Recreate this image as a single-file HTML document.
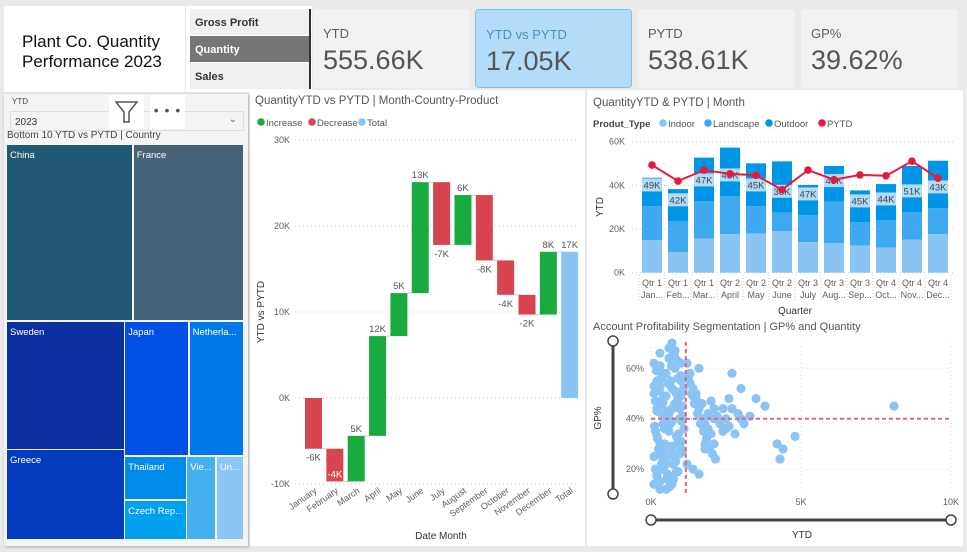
<!DOCTYPE html>
<html><head><meta charset="utf-8">
<style>
*{box-sizing:border-box;margin:0;padding:0}
body{width:967px;height:552px;background:#eaeaea;font-family:"Liberation Sans",sans-serif;position:relative;overflow:hidden}
.abs{position:absolute}
.card{position:absolute;background:#f2f2f2;border-radius:4px;top:9px;height:79px;width:157px}
.card .l{position:absolute;left:10px;top:17px;font-size:13px;color:#605e5c}
.card .v{position:absolute;left:10px;top:36px;font-size:27px;color:#555}
.btn{position:absolute;left:190px;width:120px;height:26px;font-size:11px;font-weight:bold;color:#333;padding:8px 0 0 5px;background:#f0f0f0}
</style></head><body>
<div class="abs" style="left:4px;top:6px;width:181px;height:86px;background:#fff"></div>
<div class="abs" style="left:22px;top:32px;font-size:17px;line-height:20px;color:#111">Plant Co. Quantity<br>Performance 2023</div>
<div class="abs" style="left:186px;top:6px;width:126px;height:86px;background:#fff"></div>
<div class="btn" style="top:9px">Gross Profit</div>
<div class="btn" style="top:36px;background:#767676;color:#fff">Quantity</div>
<div class="btn" style="top:63px">Sales</div>
<div class="abs" style="left:309px;top:9px;width:2px;height:80px;background:#333"></div>
<div class="card" style="left:313px"><div class="l">YTD</div><div class="v">555.66K</div></div>
<div class="card" style="left:475px;background:#b3dcf8;border:1px solid #7fbfea"><div class="l" style="color:#4a8fc7">YTD vs PYTD</div><div class="v">17.05K</div></div>
<div class="card" style="left:638px"><div class="l">PYTD</div><div class="v">538.61K</div></div>
<div class="card" style="left:801px"><div class="l">GP%</div><div class="v">39.62%</div></div>

<div class="abs" style="left:4px;top:94px;width:244px;height:452px;background:#f4f4f4;box-shadow:1px 1px 3px #aaa"></div>
<div class="abs" style="left:12px;top:97px;font-size:8px;color:#444">YTD</div>
<div class="abs" style="left:10px;top:111px;width:234px;height:20px;border:1px solid #ddd;font-size:10px;padding:5px 4px;color:#333">2023<span style="position:absolute;right:6px;top:2px;color:#666">⌄</span></div>
<div class="abs" style="left:109px;top:95px;width:35px;height:34px;background:#fff"><svg width="35" height="34"><path d="M7 7 H28 L20 17 V27 H15 V17 Z" fill="none" stroke="#555" stroke-width="1.5"/></svg></div>
<div class="abs" style="left:150px;top:95px;width:35px;height:34px;background:#fff;text-align:center;font-size:14px;color:#555;line-height:30px;letter-spacing:1px">• • •</div>
<div class="abs" style="left:7px;top:130px;font-size:10px;color:#444">Bottom 10 YTD vs PYTD | Country</div>
<div id="tm"></div>

<div class="abs" style="left:250px;top:90px;width:335px;height:456px;background:#fff"></div>
<div class="abs" style="left:587px;top:90px;width:376px;height:456px;background:#fff"></div>
<svg class="abs" style="left:0;top:0" width="967" height="552" id="svg" font-family="Liberation Sans, sans-serif"></svg>

<script>
// ---------- treemap data ----------
const tmNames=["China","France","Sweden","Japan","Netherla...","Greece","Thailand","Czech Rep...","Vie...","Un..."];
const tmValues=[-9.0,-7.9,-6.1,-3.5,-3.0,-4.3,-1.1,-1.0,-1.0,-0.95];
const tmColors=["#215873","#466278","#0c2fa0","#0050e6","#0078ea","#053cbf","#008beb","#00a0ee","#45b0f0","#8bc6f5"];

// ---------- waterfall data ----------
const wfMonths=["January","February","March","April","May","June","July","August","September","October","November","December"];
const wfDeltas=[-5.9,-3.8,5.3,11.6,5.0,12.9,-7.3,5.8,-7.6,-4.0,-2.3,7.3];
const wfLabels=["-6K","-4K","5K","12K","5K","13K","-7K","6K","-8K","-4K","-2K","8K"];
const wfTicks=[-10,0,10,20,30];

// ---------- stacked column data ----------
const bcQuarters=["Qtr 1","Qtr 1","Qtr 1","Qtr 2","Qtr 2","Qtr 2","Qtr 3","Qtr 3","Qtr 3","Qtr 4","Qtr 4","Qtr 4"];
const bcMonths=["Jan...","Feb...","Mar...","April","May","June","July","Aug...","Sep...","Oct...","Nov...","Dec..."];
const bcIndoor=[15.0,9.5,15.6,17.7,18.0,19.1,14.0,13.6,12.5,11.5,15.1,17.7];
const bcLandscape=[15.5,14.2,17.2,17.4,12.5,8.5,12.4,18.9,10.7,12.6,12.7,11.9];
const bcOutdoor=[13.0,14.6,19.9,22.2,19.6,23.4,13.8,16.4,14.5,16.5,21.1,21.7];
const bcPytd=[49.3,42.0,47.0,45.3,44.6,38.0,47.0,42.6,44.8,44.4,51.1,43.3];
const bcPytdLabels=["49K","42K","47K","45K","45K","38K","47K","43K","45K","44K","51K","43K"];
const bcTicks=[0,20,40,60];

// ---------- scatter data (YTD in K, GP %) ----------
const scX=[0.1,0.2,0.3,0.4,0.5,0.6,0.7,0.8,0.9,1.0, 0.15,0.25,0.35,0.45,0.55,0.65,0.75,0.85,0.95,1.05, 0.2,0.3,0.4,0.5,0.6,0.7,0.8,0.9,1.0,1.1, 0.1,0.2,0.3,0.4,0.5,0.6,0.7,0.8,0.9,1.0, 0.12,0.22,0.32,0.42,0.52,0.62,0.72,0.82,0.92,1.02, 0.18,0.28,0.38,0.48,0.58,0.68,0.78,0.88,0.98,1.08, 0.1,0.3,0.5,0.7,0.9,0.2,0.4,0.6,0.8,1.0, 0.15,0.35,0.55,0.75,0.95,0.25,0.45,0.65,0.85,1.05, 1.2,1.3,1.4,1.5,1.6,1.7,1.8,1.9,2.0,2.1, 1.25,1.35,1.45,1.55,1.65,1.75,1.85,1.95,2.05,2.15, 1.2,1.4,1.6,1.8,2.0,2.2,2.4,2.6,1.3,1.5, 1.7,1.9,2.1,2.3,2.5,2.7,2.9,3.0,3.1,2.8, 2.6,2.4,2.2,2.0,3.3,3.5,3.8,4.2,4.3,4.4, 4.8,8.1,3.0,2.7,1.6,1.4,1.2,2.1,1.8,2.5, 0.1,0.3,0.5,0.7,0.9,0.2,0.4,0.6,0.8,1.0, 0.15,0.35,0.55,0.75,0.95,0.25,0.45,0.65,0.85,1.05, 0.1,0.3,0.5,0.7,0.9,0.2,0.4,0.6,0.8,1.0];
const scY=[62,55,66,48,58,68,52,60,45,57, 35,28,42,30,25,38,22,33,40,27, 18,15,20,12,17,14,24,19,31,36, 50,44,53,47,41,64,70,67,56,49, 37,32,26,21,16,13,29,23,34,39, 59,51,46,43,54,61,65,63,57,52, 25,30,36,44,48,33,38,42,46,28, 20,22,18,16,26,60,58,55,50,45, 62,58,52,48,44,40,38,36,34,30, 56,50,46,42,38,35,32,28,26,24, 22,20,18,30,34,40,44,48,54,50, 46,42,40,38,36,44,42,40,38,34, 37,35,41,47,41,48,45,30,24,28, 33,45,52,58,60,49,57,44,28,40, 53,61,49,39,31,43,27,35,23,62, 47,56,39,66,44,52,36,29,19,41, 14,12,22,27,32,17,24,43,51,55];

const svg=document.getElementById('svg');
const NS='http://www.w3.org/2000/svg';
function el(tag,attrs,parent){const e=document.createElementNS(NS,tag);for(const k in attrs)e.setAttribute(k,attrs[k]);(parent||svg).appendChild(e);return e;}
function txt(x,y,s,attrs){const t=el('text',Object.assign({x:x,y:y,'font-size':10,fill:'#605e5c'},attrs||{}));t.textContent=s;return t;}

// ---------- treemap ----------
(function(){
  const tm=document.getElementById('tm');
  const X0=7,X1=245,Y0=145,Y1=541;
  const total=tmValues.reduce((a,b)=>a+Math.abs(b),0);
  const rects=[];
  const topSum=Math.abs(tmValues[0])+Math.abs(tmValues[1]);
  const yTop=Y0+(Y1-Y0)*topSum/total;
  let xs=X0+(X1-X0)*Math.abs(tmValues[0])/topSum;
  rects.push([X0,Y0,xs,yTop],[xs,Y0,X1,yTop]);
  const rest=total-topSum;
  const leftSum=Math.abs(tmValues[2])+Math.abs(tmValues[5]);
  const xl=X0+(X1-X0)*leftSum/rest;
  const ysw=yTop+(Y1-yTop)*Math.abs(tmValues[2])/leftSum;
  const rightRest=rest-leftSum;
  const jnSum=Math.abs(tmValues[3])+Math.abs(tmValues[4]);
  const yjn=yTop+(Y1-yTop)*jnSum/rightRest;
  const xj=xl+(X1-xl)*Math.abs(tmValues[3])/jnSum;
  const smallSum=rightRest-jnSum;
  const tcSum=Math.abs(tmValues[6])+Math.abs(tmValues[7]);
  const xtc=xl+(X1-xl)*tcSum/smallSum;
  const yth=yjn+(Y1-yjn)*Math.abs(tmValues[6])/tcSum;
  const xv=xtc+(X1-xtc)*Math.abs(tmValues[8])/(Math.abs(tmValues[8])+Math.abs(tmValues[9]));
  const map={2:[X0,yTop,xl,ysw],5:[X0,ysw,xl,Y1],3:[xl,yTop,xj,yjn],4:[xj,yTop,X1,yjn],6:[xl,yjn,xtc,yth],7:[xl,yth,xtc,Y1],8:[xtc,yjn,xv,Y1],9:[xv,yjn,X1,Y1]};
  for(let i=2;i<10;i++)rects.push(map[i]);
  rects.forEach((r,i)=>{
    const d=document.createElement('div');
    
    
    d.style.cssText=`position:absolute;left:${r[0]}px;top:${r[1]}px;width:${r[2]-r[0]-1.5}px;height:${r[3]-r[1]-1.5}px;background:${tmColors[i]};color:#fff;font-size:9.5px;padding:5px 3px;overflow:hidden;white-space:nowrap`;
    d.textContent=tmNames[i];
    tm.appendChild(d);
  });
})();

// ---------- waterfall ----------
(function(){
  txt(255,104,'QuantityYTD vs PYTD | Month-Country-Product',{'font-size':11.5,fill:'#555'});
  const leg=[["Increase","#1aab40",258],["Decrease","#d64550",309],["Total","#8ac4f5",359]];
  leg.forEach(l=>{const c=el('circle',{cx:l[2]+3,cy:122,r:3.8,fill:l[1]});txt(l[2]+8,126,l[0],{'font-size':9.5,fill:'#555'});});
  const y=v=>398-v*8.6;
  const step=21.35, x0=305, bw=17;
  wfTicks.forEach(t=>{el('line',{x1:295,x2:578,y1:y(t),y2:y(t),stroke:'#ccc','stroke-dasharray':'1,3'});txt(290,y(t)+3,t+'K',{'text-anchor':'end','font-size':9});});
  let cum=0;
  wfDeltas.forEach((d,i)=>{
    const a=cum,b=cum+d;cum=b;
    const x=x0+i*step;
    const r=el('rect',{x:x,y:y(Math.max(a,b)),width:bw,height:Math.abs(y(a)-y(b)),fill:d>=0?'#1aab40':'#d64550'});
    
    
    el('line',{x1:x+bw,x2:x+step,y1:y(b),y2:y(b),stroke:'#ccc'});
    let ly=d>=0?y(b)-4:y(b)+12, col='#555';
    if(d<0 && b<-8){ly=y(b)-4;col='#fff';}
    txt(x+bw/2,ly,wfLabels[i],{'text-anchor':'middle','font-size':9.5,fill:col});
    const lx=x+bw/2+4;
    txt(lx,492,wfMonths[i],{'text-anchor':'end','font-size':9,transform:`rotate(-35 ${lx} 492)`});
  });
  const xt=x0+12*step;
  const t=el('rect',{x:xt,y:y(cum),width:bw,height:y(0)-y(cum),fill:'#8ac4f5'});
  
  
  txt(xt+bw/2,y(cum)-4,'17K',{'text-anchor':'middle','font-size':9.5,fill:'#555'});
  txt(xt+bw/2+4,492,'Total',{'text-anchor':'end','font-size':9,transform:`rotate(-35 ${xt+bw/2+4} 492)`});
  txt(441,539,'Date Month',{'text-anchor':'middle','font-size':10,fill:'#333'});
  txt(264,312,'YTD vs PYTD',{'text-anchor':'middle','font-size':10,fill:'#333',transform:'rotate(-90 264 312)'});
})();

// ---------- stacked column + line ----------
(function(){
  txt(593,106,'QuantityYTD & PYTD | Month',{'font-size':11.5,fill:'#555'});
  txt(593,127,'Produt_Type',{'font-size':9.5,fill:'#444','font-weight':'bold'});
  const leg=[["Indoor","#8ac4f5",660],["Landscape","#3fa9f0",705],["Outdoor","#0096e8",766],["PYTD","#e8193c",819]];
  leg.forEach(l=>{const c=el('circle',{cx:l[2]+3,cy:123,r:3.8,fill:l[1]});txt(l[2]+8,127,l[0],{'font-size':9.5,fill:'#555'});});
  const y=v=>272.7-v*2.183;
  bcTicks.forEach(t=>{el('line',{x1:632,x2:955,y1:y(t),y2:y(t),stroke:'#ccc','stroke-dasharray':'1,3'});txt(625,y(t)+3,t+'K',{'text-anchor':'end','font-size':9});});
  const x0=642, step=26, bw=20;
  const pts=[];
  bcIndoor.forEach((v,i)=>{
    const x=x0+i*step;
    const segs=[[0,v,'#8ac4f5','indoor'],[v,v+bcLandscape[i],'#3fa9f0','landscape'],[v+bcLandscape[i],v+bcLandscape[i]+bcOutdoor[i],'#0096e8','outdoor']];
    segs.forEach(s=>{const r=el('rect',{x:x,y:y(s[1]),width:bw,height:y(s[0])-y(s[1]),fill:s[2]});});
    const top=v+bcLandscape[i]+bcOutdoor[i];
    const ly=Math.min(top-2,v+bcLandscape[i]+9);
    el('rect',{x:x,y:y(ly)-8,width:bw,height:13,fill:'#cfe8fb',opacity:0.85});
    txt(x+bw/2,y(ly)+2,bcPytdLabels[i],{'text-anchor':'middle','font-size':9.5,fill:'#444'});
    pts.push([x+bw/2,y(bcPytd[i])]);
    el('line',{x1:x-3,x2:x-3,y1:275,y2:300,stroke:'#ccc','stroke-dasharray':'1,2'});
    txt(x+bw/2,286,bcQuarters[i],{'text-anchor':'middle','font-size':9});
    txt(x+bw/2,298,bcMonths[i],{'text-anchor':'middle','font-size':9});
  });
  el('line',{x1:x0+12*step-3,x2:x0+12*step-3,y1:275,y2:300,stroke:'#ccc','stroke-dasharray':'1,2'});
  const pl=el('polyline',{points:pts.map(p=>p.join(',')).join(' '),fill:'none',stroke:'#e8193c','stroke-width':2});
  
  
  pts.forEach((p,i)=>{const c=el('circle',{cx:p[0],cy:p[1],r:3.8,fill:'#e8193c'});});
  txt(795,314,'Quarter',{'text-anchor':'middle','font-size':10,fill:'#333'});
  txt(603,207,'YTD',{'text-anchor':'middle','font-size':10,fill:'#333',transform:'rotate(-90 603 207)'});
})();

// ---------- scatter ----------
(function(){
  txt(593,330,'Account Profitability Segmentation | GP% and Quantity',{'font-size':11,fill:'#555'});
  const x=v=>651+v*30, y=v=>418.7-(v-40)*2.52;
  [20,40,60].forEach(t=>{el('line',{x1:651,x2:951,y1:y(t),y2:y(t),stroke:'#ddd','stroke-dasharray':'1,3'});txt(644,y(t)+3,t+'%',{'text-anchor':'end','font-size':9});});
  [0,5,10].forEach(t=>{el('line',{x1:x(t),x2:x(t),y1:343,y2:493,stroke:'#ddd','stroke-dasharray':'1,3'});txt(x(t),505,t+'K',{'text-anchor':'middle','font-size':9});});
  const n=Math.min(scX.length,scY.length);
  for(let i=0;i<n;i++){const c=el('circle',{cx:x(scX[i]),cy:y(scY[i]),r:4.6,fill:'#8ac4f5'});}
  el('line',{x1:x(1.16),x2:x(1.16),y1:342,y2:495,stroke:'#e8607a','stroke-width':2,'stroke-dasharray':'4,3'});
  el('line',{x1:651,x2:951,y1:y(40),y2:y(40),stroke:'#e8607a','stroke-width':2,'stroke-dasharray':'4,3'});
  el('line',{x1:613,x2:613,y1:341,y2:494,stroke:'#444','stroke-width':3});
  [341,494].forEach(yy=>{const c=el('circle',{cx:613,cy:yy,r:5,fill:'#fff',stroke:'#444','stroke-width':1.5});});
  el('line',{x1:651,x2:951,y1:520,y2:520,stroke:'#444','stroke-width':3});
  [651,951].forEach(xx=>{const c=el('circle',{cx:xx,cy:520,r:5,fill:'#fff',stroke:'#444','stroke-width':1.5});});
  txt(802,538,'YTD',{'text-anchor':'middle','font-size':10,fill:'#333'});
  txt(601,418,'GP%',{'text-anchor':'middle','font-size':10,fill:'#333',transform:'rotate(-90 601 418)'});
})();
</script>
</body></html>
